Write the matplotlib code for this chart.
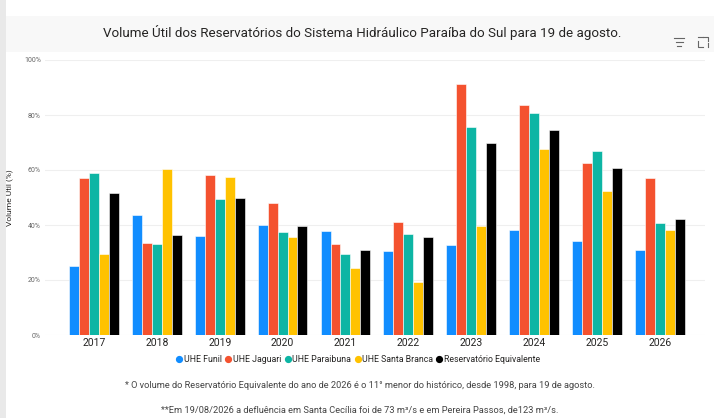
import numpy as np
import matplotlib.pyplot as plt
from matplotlib.patches import Rectangle
from matplotlib.lines import Line2D

plt.rcParams['font.family'] = ['Roboto', 'DejaVu Sans']

years = ['2017', '2018', '2019', '2020', '2021', '2022', '2023', '2024', '2025', '2026']
funil = [25.2, 43.6, 35.9, 40.0, 37.9, 30.5, 32.8, 38.2, 34.1, 31.0]
jaguari = [57.1, 33.5, 58.1, 48.0, 33.0, 41.0, 91.2, 83.6, 62.4, 57.0]
paraibuna = [58.8, 33.0, 49.5, 37.3, 29.6, 36.8, 75.8, 80.6, 67.0, 40.8]
santa_branca = [29.3, 60.2, 57.3, 35.6, 24.4, 19.3, 39.8, 67.5, 52.4, 38.2]
equivalente = [51.6, 36.4, 49.7, 39.5, 30.9, 35.5, 69.9, 74.4, 60.6, 42.2]

series_names = ['UHE Funil', 'UHE Jaguari', 'UHE Paraibuna', 'UHE Santa Branca',
                'Reservatório Equivalente']
colors = ['#118DFF', '#F4522F', '#0DB5A4', '#FFC200', '#000000']

title = 'Volume Útil dos Reservatórios do Sistema Hidráulico Paraíba do Sul para 19 de agosto.'
note1 = '* O volume do Reservatório Equivalente do ano de 2026 é o 11° menor do histórico, desde 1998, para 19 de agosto.'
note2 = '**Em 19/08/2026 a defluência em Santa Cecília foi de 73 m³/s e em Pereira Passos, de123 m³/s.'

fig = plt.figure(figsize=(7.14, 4.18), dpi=100)
fig.patch.set_facecolor('white')

# light gray strip on the left edge and faint title band
fig.add_artist(Rectangle((0, 0), 6 / 714, 1, transform=fig.transFigure,
                         facecolor='#e9e9e9', edgecolor='none'))
fig.add_artist(Rectangle((6 / 714, 1 - 52 / 418), 1, 36 / 418, transform=fig.transFigure,
                         facecolor='#f8f8f8', edgecolor='none'))

ax = fig.add_axes([45 / 714, 1 - 335 / 418, 660 / 714, 275 / 418])

x = np.arange(len(years))
width = 0.158
all_series = [funil, jaguari, paraibuna, santa_branca, equivalente]
for i, (vals, color) in enumerate(zip(all_series, colors)):
    offs = (i - 2) * width
    ax.bar(x + offs, vals, width=width, color=color, edgecolor='white', linewidth=0.4,
           zorder=3)

ax.set_xlim(-0.78, 9.72)
ax.set_ylim(0, 100)
ax.set_yticks([0, 20, 40, 60, 80, 100])
ax.set_yticklabels(['0%', '20%', '40%', '60%', '80%', '100%'], fontsize=5, color='#666666')
ax.set_xticks(x)
ax.set_xticklabels(years, fontsize=7.5, color='#252423')
ax.tick_params(axis='both', length=0, pad=3)
ax.tick_params(axis='x', pad=2)
ax.grid(axis='y', color='#efefef', linewidth=0.8, zorder=0)
for s in ax.spines.values():
    s.set_visible(False)
ax.set_ylabel('Volume Útil (%)', fontsize=6, color='#252423', labelpad=8)

fig.text(0.507, 1 - 33 / 418, title, ha='center', va='center', fontsize=9.6, color='#252423')

# small header icons: filter lines and expand box
icon_col = '#666666'
for k, (w, dy) in enumerate([(10, 0), (7, 4), (4, 8)]):
    cx = 679
    yy = 1 - (38 + dy) / 418
    fig.add_artist(Line2D([(cx - w / 2) / 714, (cx + w / 2) / 714], [yy, yy],
                          transform=fig.transFigure, color=icon_col, linewidth=0.8))
bx0, bx1, by0, by1 = 698, 708, 37, 47
fig.add_artist(Line2D([bx0 / 714, bx0 / 714, 703 / 714], [1 - 41 / 418, 1 - by1 / 418, 1 - by1 / 418],
                      transform=fig.transFigure, color=icon_col, linewidth=0.8))
fig.add_artist(Line2D([bx1 / 714, bx1 / 714], [1 - 43 / 418, 1 - by1 / 418],
                      transform=fig.transFigure, color=icon_col, linewidth=0.8))
fig.add_artist(Line2D([bx0 / 714, 703 / 714], [1 - by0 / 418, 1 - by0 / 418],
                      transform=fig.transFigure, color=icon_col, linewidth=0.8))
fig.add_artist(Line2D([703 / 714, bx1 / 714, bx1 / 714], [1 - by0 / 418, 1 - by0 / 418, 1 - 41 / 418],
                      transform=fig.transFigure, color=icon_col, linewidth=0.8))

handles = [Line2D([0], [0], marker='o', linestyle='none', markersize=4.2,
                  markerfacecolor=c, markeredgecolor=c) for c in colors]
fig.legend(handles, series_names, loc='center', bbox_to_anchor=(0.502, 1 - 360 / 418),
           ncol=5, frameon=False, fontsize=6.3, handletextpad=0.2, columnspacing=0.45,
           handlelength=0.6, labelcolor='#252423')

fig.text(0.504, 1 - 386 / 418, note1, ha='center', va='center', fontsize=6.7, color='#444444')
fig.text(0.504, 1 - 410 / 418, note2, ha='center', va='center', fontsize=6.7, color='#444444')

fig.savefig('out.png', dpi=100)
